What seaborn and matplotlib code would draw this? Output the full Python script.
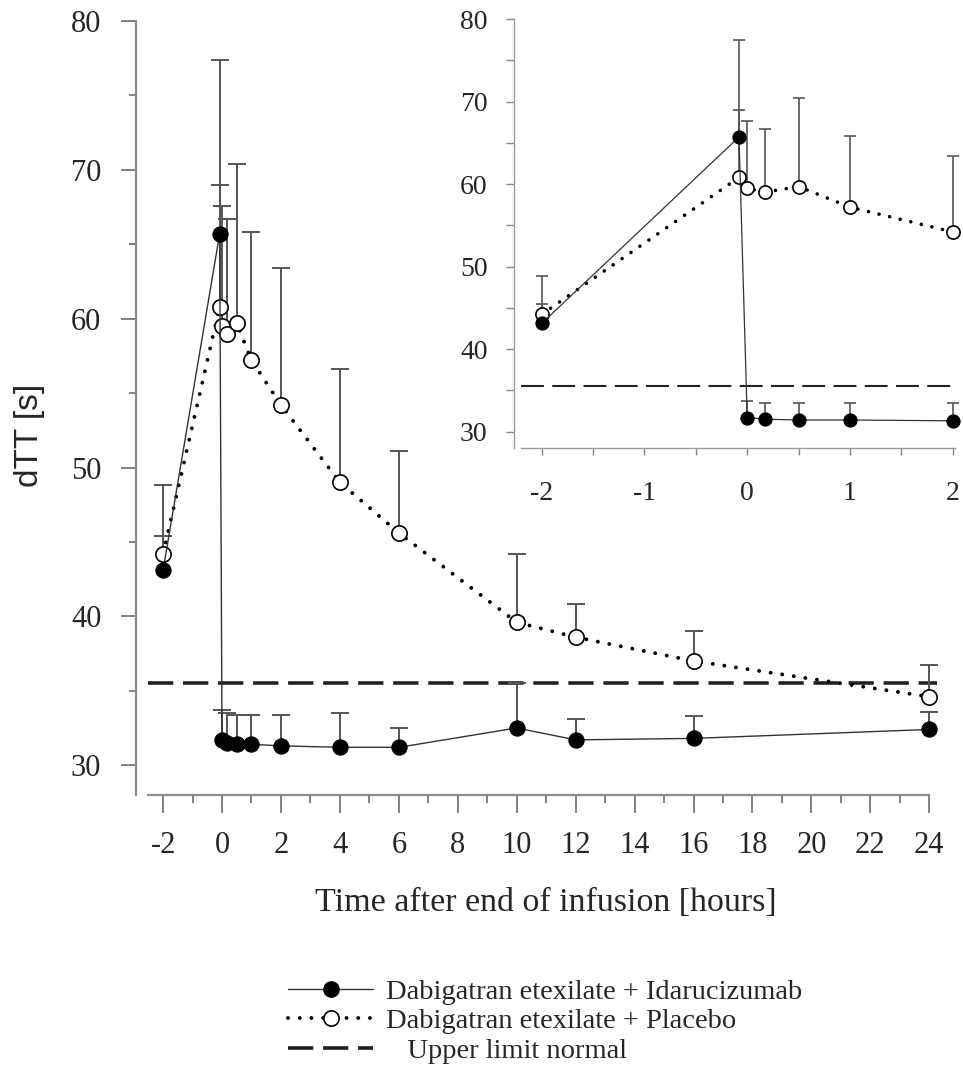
import numpy as np
import pandas as pd
import matplotlib
matplotlib.use("Agg")
import matplotlib.pyplot as plt
from matplotlib.lines import Line2D
from matplotlib.ticker import MultipleLocator
import seaborn as sns

# dTT [s], mean and mean + SD
idaru_time = [-2, -0.08, 0, 0.17, 0.5, 1, 2, 4, 6, 10, 12, 16, 24]
idaru_mean = [43.1, 65.7, 31.7, 31.5, 31.4, 31.4, 31.3, 31.2, 31.2, 32.5, 31.7, 31.8, 32.4]
idaru_upper = [45.4, 77.4, 33.7, 33.5, 33.4, 33.4, 33.4, 33.5, 32.5, 35.5, 33.1, 33.3, 33.6]

placebo_time = [-2, -0.08, 0, 0.17, 0.5, 1, 2, 4, 6, 10, 12, 16, 24]
placebo_mean = [44.2, 60.8, 59.5, 59.0, 59.7, 57.2, 54.2, 49.0, 45.6, 39.6, 38.6, 37.0, 34.6]
placebo_upper = [48.8, 69.0, 67.6, 66.7, 70.4, 65.8, 63.4, 56.6, 51.1, 44.2, 40.8, 39.0, 36.7]

upper_limit_normal = 35.5

main_xticks = list(range(-2, 25, 2))
inset_xticks = [-2, -1, 0, 1, 2]
yticks = [30, 40, 50, 60, 70, 80]

legend_labels = ["Dabigatran etexilate + Idarucizumab",
                 "Dabigatran etexilate + Placebo",
                 "   Upper limit normal"]

SERIF = ["Liberation Serif", "DejaVu Serif"]
SANS = ["Liberation Sans", "DejaVu Sans"]

sns.set_style("ticks")
plt.rcParams["font.family"] = SERIF

idaru = pd.DataFrame({"time": idaru_time, "dtt": idaru_mean, "upper": idaru_upper})
placebo = pd.DataFrame({"time": placebo_time, "dtt": placebo_mean, "upper": placebo_upper})

DOT = (0, (0.01, 3.0))


def draw_series(ax, tmax, ms, lw_solid, lw_dot, cap_ms, bar_lw, dash, dash_lw, xr):
    idf = idaru[idaru.time <= tmax]
    pdf = placebo[placebo.time <= tmax]
    # error bars (upper only)
    for df in (idf, pdf):
        ax.vlines(df.time, df.dtt, df.upper, color="#555555", lw=bar_lw, zorder=2)
        ax.plot(df.time, df.upper, ls="none", marker="_", ms=cap_ms, mew=bar_lw,
                color="#555555", zorder=2)
    ax.plot(xr, [upper_limit_normal, upper_limit_normal], color="#222222",
            lw=dash_lw, ls=(0, dash), zorder=1)
    sns.lineplot(data=pdf, x="time", y="dtt", ax=ax, color="black", lw=lw_dot,
                 linestyle=DOT, dash_capstyle="round", marker="o", ms=ms,
                 markerfacecolor="white", markeredgecolor="black", mew=1.2,
                 zorder=3, legend=False)
    sns.lineplot(data=idf, x="time", y="dtt", ax=ax, color="#333333", lw=lw_solid,
                 marker="o", ms=ms, markerfacecolor="black", markeredgecolor="black",
                 zorder=4, legend=False)


def style_axes(ax, xlim, xbounds, spine_lw, spine_color):
    ax.set_ylim(28, 80)
    ax.set_xlim(*xlim)
    sns.despine(ax=ax)
    ax.spines["left"].set_bounds(28, 80)
    ax.spines["bottom"].set_bounds(*xbounds)
    for s in ("left", "bottom"):
        ax.spines[s].set_linewidth(spine_lw)
        ax.spines[s].set_color(spine_color)
    ax.set_xlabel("")
    ax.set_ylabel("")
    ax.set_facecolor("none")


fig = plt.figure(figsize=(9.63, 10.76), dpi=100)

# main panel
ax = fig.add_axes([0.1412, 0.2612, 0.833, 0.7193])
draw_series(ax, 24, 11, 1.0, 2.8, 13, 1.4, (7, 2.7), 2.6, [-2.5, 24.25])
style_axes(ax, (-2.92, 24.3), (-2.5, 24), 1.6, "#8c8c8c")
ax.set_xticks(main_xticks)
ax.set_xticklabels([str(t) for t in main_xticks])
ax.xaxis.set_minor_locator(MultipleLocator(1))
ax.set_yticks(yticks)
ax.yaxis.set_minor_locator(MultipleLocator(5))
ax.tick_params(axis="y", which="major", length=11, width=1.3, color="#777777",
               labelsize=22, pad=14)
ax.tick_params(axis="y", which="minor", length=5, width=1.3, color="#777777")
ax.tick_params(axis="x", which="major", length=13, width=1.3, color="#777777",
               labelsize=22, pad=13)
ax.tick_params(axis="x", which="minor", length=6, width=1.3, color="#777777")

ax.set_xlabel("Time after end of infusion [hours]", fontsize=24.5)
ax.xaxis.set_label_coords(0.511, -0.1395)
ax.xaxis.label.set_verticalalignment("center")
ax.set_ylabel("dTT [s]", fontsize=24, family=SANS)
ax.yaxis.set_label_coords(-0.133, 0.465)
ax.yaxis.label.set_verticalalignment("center")

# inset panel
axi = fig.add_axes([0.5337, 0.5836, 0.4663, 0.3987])
draw_series(axi, 2, 9.5, 0.9, 2.6, 8, 1.2, (11, 4), 1.5, [-2.2, 2.02])
style_axes(axi, (-2.27, 2.1), (-2.2, 2.02), 1.0, "#9a9a9a")
axi.set_xticks(inset_xticks)
axi.set_xticklabels([str(t) for t in inset_xticks])
axi.xaxis.set_minor_locator(MultipleLocator(0.5))
axi.set_yticks(yticks)
axi.yaxis.set_minor_locator(MultipleLocator(5))
axi.tick_params(axis="y", which="both", length=6, width=1.0, color="#888888",
                labelsize=20, pad=13)
axi.tick_params(axis="x", which="both", length=5, width=1.0, color="#888888",
                labelsize=20, pad=19)

# legend below the chart
handles = [
    Line2D([], [], color="#333333", lw=1.0, marker="o", ms=11,
           markerfacecolor="black", markeredgecolor="black"),
    Line2D([], [], color="black", lw=2.8, ls=DOT, dash_capstyle="round", marker="o",
           ms=11, markerfacecolor="white", markeredgecolor="black", mew=1.2),
    Line2D([], [], color="#222222", lw=2.6, ls=(0, (7, 2.7))),
]
fig.legend(handles, legend_labels, loc="upper left",
           bbox_to_anchor=(288 / 963, 1 - 979 / 1076), frameon=False,
           fontsize=20.5, handlelength=3.0, handletextpad=0.45, labelspacing=0.12,
           borderpad=0, borderaxespad=0)

fig.savefig("out.png", dpi=100)
